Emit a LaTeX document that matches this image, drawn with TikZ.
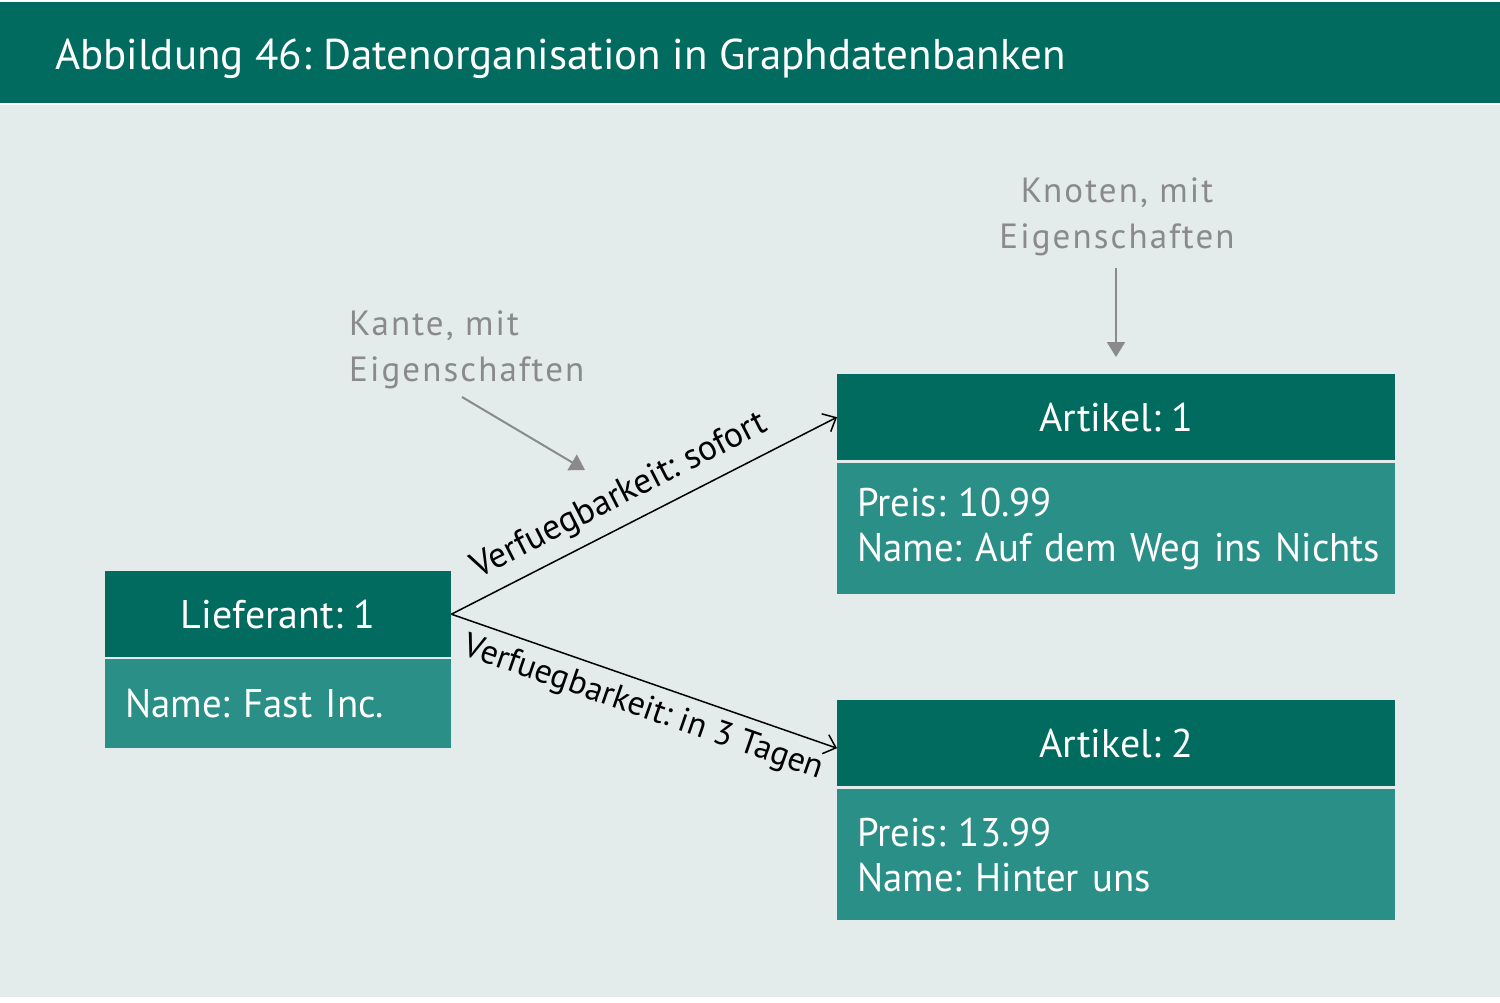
\documentclass[tikz,border=0pt]{standalone}
\usepackage{fontspec}
\setmainfont{PT Sans}
\usetikzlibrary{arrows.meta}
\definecolor{hdrc}{HTML}{006B5E}
\definecolor{bdyc}{HTML}{2A8F86}
\definecolor{bgc}{HTML}{E3ECEB}
\definecolor{anc}{HTML}{8A8A8A}
\frenchspacing
\newfontfamily\boxfam[FakeStretch=0.97]{PT Sans}
\tikzset{
  hdrbox/.style={fill=hdrc, text=white, minimum height=86pt, inner sep=0pt,
    font=\fontsize{40}{45}\selectfont, anchor=north west},
  bdybox/.style={fill=bdyc, text=white, inner xsep=20pt, inner ysep=0pt,
    align=left, font=\boxfam\fontsize{40}{45}\selectfont, anchor=north west},
  edgeline/.style={draw=black, line width=1.5pt,
    -{Straight Barb[length=11pt,width=20pt,line width=1.5pt]}},
  edgelabel/.style={font=\fontsize{34}{38}\selectfont, inner sep=0pt, sloped},
  anntext/.style={text=anc, font=\fontsize{35}{46}\selectfont\addfontfeature{LetterSpace=6}, inner sep=0pt},
  annarrow/.style={draw=anc, line width=2pt, -{Triangle[length=15pt,width=18pt]}}
}
\begin{document}
\begin{tikzpicture}[x=1pt,y=-1pt]
\useasboundingbox (0,0) rectangle (1500,1002);
\fill[white] (0,0) rectangle (1500,1002);
\fill[bgc] (0,105) rectangle (1500,997);
\node[fill=hdrc, minimum width=1500pt, minimum height=101pt, inner sep=0pt, anchor=north west] (banner) at (0,2) {};
\node[text=white, font=\fontsize{43}{50}\selectfont, inner sep=0pt, anchor=base west] (title) at (55,69) {Abbildung 46: Datenorganisation in Graphdatenbanken};

% Lieferant
\node[hdrbox, minimum width=346pt] (lh) at (105,571) {Lieferant: 1};
\node[bdybox, minimum width=346pt, text width=306pt, minimum height=89pt] (lb) at (105,659) {Name: Fast Inc.};

% Artikel 1
\node[hdrbox, minimum width=558pt] (a1h) at (837,374) {Artikel: 1};
\node[bdybox, minimum width=558pt, text width=518pt, minimum height=131pt] (a1b) at (837,463) {Preis: 10.99\\\mbox{Name: Auf dem Weg ins Nichts}};

% Artikel 2
\node[hdrbox, minimum width=558pt] (a2h) at (837,700) {Artikel: 2};
\node[bdybox, minimum width=558pt, text width=518pt, minimum height=131pt] (a2b) at (837,789) {Preis: 13.99\\Name: Hinter uns};

% edges
\draw[edgeline] (lh.east) -- (a1h.west) node[edgelabel, above=11pt, pos=0.47, font=\fontsize{35.5}{38}\selectfont] {Verfuegbarkeit: sofort};
\draw[edgeline] (lh.east) -- ([yshift=-5pt]a2h.west) node[edgelabel, below=10pt, pos=0.52] {Verfuegbarkeit: in 3 Tagen};

% annotations
\node[anntext, align=left, anchor=north west] (kante) at (349,311) {Kante, mit\\Eigenschaften};
\node[anntext, align=center, anchor=north] (knoten) at (1117,178) {Knoten, mit\\Eigenschaften};
\coordinate (ks) at (462,397);
\coordinate (ke) at (585,470);
\coordinate (ns) at (1116,268);
\coordinate (ne) at (1116,357);
\draw[annarrow] (ks) -- (ke);
\draw[annarrow] (ns) -- (ne);
\end{tikzpicture}
\end{document}
